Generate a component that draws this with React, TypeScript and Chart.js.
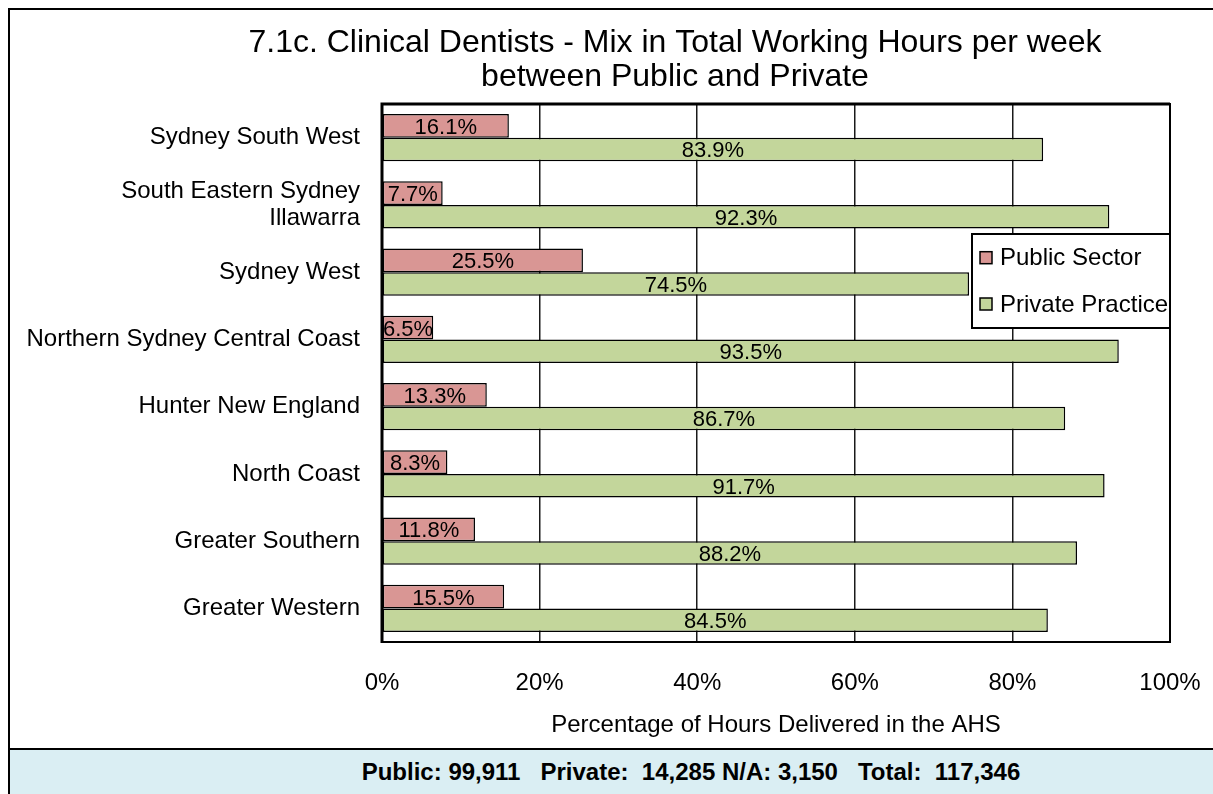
import React, { useEffect, useRef } from "react";
import { Chart, registerables } from "chart.js";

Chart.register(...registerables);

const categories: (string | string[])[] = [
  "Sydney South West",
  ["South Eastern Sydney", "Illawarra"],
  "Sydney West",
  "Northern Sydney Central Coast",
  "Hunter New England",
  "North Coast",
  "Greater Southern",
  "Greater Western",
];
const publicSector = [16.1, 7.7, 25.5, 6.5, 13.3, 8.3, 11.8, 15.5];
const privatePractice = [83.9, 92.3, 74.5, 93.5, 86.7, 91.7, 88.2, 84.5];
const seriesLabels = ["Public Sector", "Private Practice"];
const seriesColors = ["#D99694", "#C3D69B"];
const xTicks = [0, 20, 40, 60, 80, 100];
const titleLines = [
  "7.1c. Clinical Dentists - Mix in Total Working Hours per week",
  "between Public and Private",
];
const axisTitle = "Percentage of Hours Delivered in the AHS";
const footerText = "Public: 99,911   Private:  14,285 N/A: 3,150   Total:  117,346";

const FONT = "'Liberation Sans', Arial, Helvetica, sans-serif";

const framePlugin = {
  id: "frame",
  afterDatasetsDraw(chart: any) {
    const { ctx, chartArea } = chart;
    ctx.save();
    ctx.strokeStyle = "#000";
    ctx.lineWidth = 2;
    ctx.strokeRect(chartArea.left, chartArea.top, chartArea.right - chartArea.left, chartArea.bottom - chartArea.top);
    ctx.lineWidth = 3;
    ctx.beginPath();
    ctx.moveTo(chartArea.left, chartArea.bottom + 1);
    ctx.lineTo(chartArea.left, chartArea.top);
    ctx.lineTo(chartArea.right, chartArea.top);
    ctx.stroke();
    ctx.restore();
  },
};

const dataLabelPlugin = {
  id: "dataLabels",
  afterDatasetsDraw(chart: any) {
    const ctx = chart.ctx;
    ctx.save();
    ctx.font = `22px ${FONT}`;
    ctx.fillStyle = "#000";
    ctx.textAlign = "center";
    ctx.textBaseline = "middle";
    chart.data.datasets.forEach((ds: any, i: number) => {
      const meta = chart.getDatasetMeta(i);
      meta.data.forEach((bar: any, j: number) => {
        const v = ds.data[j] as number;
        const { x, base, y } = bar.getProps(["x", "base", "y"], true);
        ctx.fillText(v.toFixed(1) + "%", (x + base) / 2, y + 2);
      });
    });
    ctx.restore();
  },
};

const legendPlugin = {
  id: "boxLegend",
  afterDraw(chart: any) {
    const { ctx, chartArea } = chart;
    const w = 198;
    const h = 94;
    const left = chartArea.right - w;
    const top = chartArea.top + 130;
    ctx.save();
    ctx.fillStyle = "#fff";
    ctx.fillRect(left, top, w, h);
    ctx.strokeStyle = "#000";
    ctx.lineWidth = 2;
    ctx.strokeRect(left, top, w, h);
    ctx.font = `24px ${FONT}`;
    ctx.textAlign = "left";
    ctx.textBaseline = "middle";
    const rows = [23.7, 70];
    chart.data.datasets.forEach((ds: any, i: number) => {
      const cy = top + rows[i];
      ctx.fillStyle = ds.backgroundColor;
      ctx.fillRect(left + 8, cy - 6, 12, 12);
      ctx.lineWidth = 1.5;
      ctx.strokeRect(left + 8, cy - 6, 12, 12);
      ctx.fillStyle = "#000";
      ctx.fillText(ds.label, left + 28, cy + 1);
    });
    ctx.restore();
  },
};

export default function App() {
  const canvasRef = useRef<HTMLCanvasElement | null>(null);

  useEffect(() => {
    document.body.style.overflow = "hidden";
    document.body.style.marginRight = "0";
    document.body.style.marginBottom = "0";
    const canvas = canvasRef.current;
    if (!canvas) return;
    const chart = new Chart(canvas, {
      type: "bar",
      data: {
        labels: categories as any,
        datasets: [
          {
            label: seriesLabels[0],
            data: publicSector,
            backgroundColor: seriesColors[0],
            borderColor: "#000",
            borderWidth: 1.5,
            borderSkipped: false,
            categoryPercentage: 0.7,
            barPercentage: 1.0,
          },
          {
            label: seriesLabels[1],
            data: privatePractice,
            backgroundColor: seriesColors[1],
            borderColor: "#000",
            borderWidth: 1.5,
            borderSkipped: false,
            categoryPercentage: 0.7,
            barPercentage: 1.0,
          },
        ],
      },
      options: {
        indexAxis: "y",
        responsive: false,
        animation: false,
        layout: { padding: 0 },
        plugins: {
          legend: { display: false },
          tooltip: { enabled: false },
          title: {
            display: true,
            text: titleLines,
            color: "#000",
            font: { family: FONT, size: 32, weight: "normal", lineHeight: 34 / 32 },
            padding: { top: 16, bottom: 10 },
          },
        },
        scales: {
          x: {
            min: 0,
            max: 100,
            afterBuildTicks: (scale: any) => {
              scale.ticks = xTicks.map((v) => ({ value: v }));
            },
            afterFit: (scale: any) => {
              scale.height = 106;
            },
            ticks: {
              color: "#000",
              font: { family: FONT, size: 24 },
              padding: 0,
              callback: (v: any) => v + "%",
            },
            grid: {
              color: "#1a1a1a",
              lineWidth: 1.5,
              drawTicks: true,
              tickLength: 27,
              tickColor: "rgba(0,0,0,0)",
            },
            border: { display: false },
            title: {
              display: true,
              text: axisTitle,
              color: "#000",
              font: { family: FONT, size: 24 },
              padding: { top: 0, bottom: 8 },
            },
          },
          y: {
            afterFit: (scale: any) => {
              scale.width = 372;
            },
            ticks: {
              color: "#000",
              font: { family: FONT, size: 24, lineHeight: 27 / 24 },
              padding: 22,
              autoSkip: false,
            },
            grid: { display: false, drawTicks: false },
            border: { display: false },
          },
          yRight: {
            type: "category",
            axis: "y",
            position: "right",
            ticks: { display: false },
            grid: { display: false, drawTicks: false },
            border: { display: false },
            afterFit: (scale: any) => {
              scale.width = 170;
            },
          },
        },
      } as any,
      plugins: [framePlugin, dataLabelPlugin, legendPlugin],
    });
    return () => {
      chart.destroy();
    };
  }, []);

  return (
    <div
      style={{
        position: "relative",
        width: 1203,
        height: 784,
        borderLeft: "2px solid #000",
        borderTop: "2px solid #000",
        background: "#fff",
        overflow: "hidden",
      }}
    >
      <canvas ref={canvasRef} width={1330} height={738} style={{ display: "block", width: 1330, height: 738 }} />
      <div
        style={{
          width: 1044,
          paddingLeft: 159,
          height: 44,
          borderTop: "2px solid #000",
          background: "#DAEEF3",
          fontFamily: FONT,
          fontWeight: "bold",
          fontSize: 24,
          lineHeight: "44px",
          textAlign: "center",
          whiteSpace: "pre",
          color: "#000",
          boxSizing: "content-box",
        }}
      >
        {footerText}
      </div>
    </div>
  );
}
